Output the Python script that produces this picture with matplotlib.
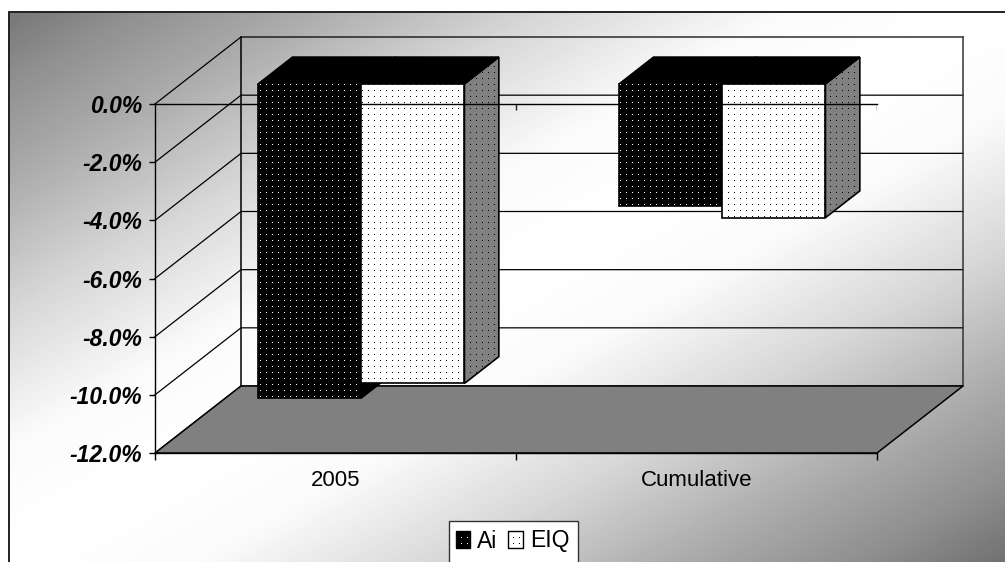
import numpy as np
import matplotlib
matplotlib.use('Agg')
import matplotlib.pyplot as plt
from matplotlib.patches import Patch, Polygon, Rectangle
from matplotlib.transforms import Affine2D, IdentityTransform

categories = ['2005', 'Cumulative']
ai = [-10.8, -4.2]
eiq = [-10.3, -4.6]
yticks = [0, -2, -4, -6, -8, -10, -12]
series_names = ['Ai', 'EIQ']

W, H = 1005, 562
plt.rcParams['font.family'] = ['Liberation Sans', 'DejaVu Sans']

fig = plt.figure(figsize=(W / 100, H / 100), dpi=100, facecolor='white')
# pixels measured from the top left corner of the picture
px = Affine2D().scale(1, -1).translate(0, H)

# background gradient
bg = fig.add_axes([0, 0, 1, 1], zorder=0)
bg.set_xlim(0, W)
bg.set_ylim(H, 0)
bg.axis('off')
xx, yy = np.meshgrid(np.arange(W), np.arange(H))
s = np.abs((xx / W + yy / H) / 2 - 0.5) * 2
shade = np.interp(s, [0, 0.2, 0.44, 0.66, 0.85, 1], [1, 0.98, 0.84, 0.68, 0.56, 0.44])
bg.imshow(shade, cmap='gray', vmin=0, vmax=1, extent=(0, W, H, 0), aspect='auto')
bg.add_patch(Rectangle((0, 0), W, 11, fc='white', ec='none'))
bg.add_patch(Rectangle((0, 0), 8, H, fc='white', ec='none'))
bg.plot([8.5, 8.5, W], [H, 11.5, 11.5], color='#222222', lw=1.4)

# front plane of the chart
ax = fig.add_axes([155 / W, 1 - 453 / H, (877 - 155) / W, (453 - 104) / H], zorder=1)
ax.patch.set_alpha(0)
ax.set_xlim(0, 2)
ax.set_ylim(-12, 0)

depth_x = 86 / 361
depth_y = 67 / (349 / 12)
bar_w = 1 / 3.5
d0, d1 = 0.3, 0.7


def proj(x, v, d):
    return x + d * depth_x, v + d * depth_y


# back wall and side wall lines
for v in yticks:
    ax.plot(*zip(proj(0, v, 0), proj(0, v, 1), proj(2, v, 1)), color='black', lw=0.9,
            clip_on=False, zorder=1, solid_joinstyle='miter')
ax.plot(*zip(proj(0, 0, 1), proj(0, -12, 1)), color='black', lw=1.1, clip_on=False, zorder=1)
ax.plot(*zip(proj(2, 0, 1), proj(2, -12, 1)), color='#333333', lw=1.1, clip_on=False, zorder=1)

# floor
floor = [proj(0, -12, 0), proj(0, -12, 1), proj(2, -12, 1), proj(2, -12, 0)]
ax.add_patch(Polygon(floor, closed=True, fc='#808080', ec='black', lw=1.1, clip_on=False, zorder=1.5))


def add_dots(gx, gy, color, z):
    pts = ax.scatter(gx, gy, s=0.52, marker='s', color=color, linewidths=0, transform=px,
                     zorder=z, clip_on=False)
    pts.set_snap(False)
    return pts


def dots(patch, color):
    gx, gy = np.meshgrid(np.arange(1, W, 6) + 0.5, np.arange(5, H, 6) + 0.5)
    pts = add_dots(gx.ravel(), gy.ravel(), color, patch.get_zorder() + 0.01)
    pts.set_clip_on(True)
    pts.set_clip_path(patch)


def bar(x, v, z, front_c, side_c, dot_c):
    x2 = x + bar_w
    side = [proj(x2, 0, d0), proj(x2, 0, d1), proj(x2, v, d1), proj(x2, v, d0)]
    top = [proj(x, 0, d0), proj(x, 0, d1), proj(x2, 0, d1), proj(x2, 0, d0)]
    front = [proj(x, 0, d0), proj(x2, 0, d0), proj(x2, v, d0), proj(x, v, d0)]
    p = Polygon(side, closed=True, fc=side_c, ec='black', lw=1.2, clip_on=False, zorder=z)
    ax.add_patch(p)
    if side_c != 'black':
        dots(p, 'black')
    ax.add_patch(Polygon(top, closed=True, fc='black', ec='black', lw=1.2, clip_on=False, zorder=z + 0.1))
    p = Polygon(front, closed=True, fc=front_c, ec='black', lw=1.2, clip_on=False, zorder=z + 0.2)
    ax.add_patch(p)
    dots(p, dot_c)


for i in range(len(categories)):
    left = i + 0.75 * bar_w
    bar(left, ai[i], 2, 'black', 'black', 'white')
    bar(left + bar_w, eiq[i], 2.5, 'white', '#808080', 'black')

# axes drawn over the bars
ax.spines['right'].set_visible(False)
for sp in ax.spines.values():
    sp.set_linewidth(1.0)
    sp.set_zorder(4)
ax.set_yticks(yticks)
ax.set_yticklabels(['%.1f%%' % v for v in yticks], fontsize=16.5, fontweight='bold', fontstyle='italic')
ax.tick_params(axis='y', length=4, width=1, pad=5)
ax.set_xticks(range(len(categories) + 1))
ax.set_xticklabels([])
ax.set_xticks(np.arange(len(categories)) + 0.5, categories, minor=True, fontsize=16)
ax.tick_params(axis='x', which='major', length=5, width=1)
ax.tick_params(axis='x', which='minor', length=0, pad=12.5)
ax.vlines(range(1, len(categories) + 1), -0.2, 0, color='#222222', lw=1, zorder=4)

# legend, its box runs off the bottom of the picture
ax.add_patch(Rectangle((448.5, 520.5), 129.5, 60, transform=px, fc='white', ec='#333333', lw=1,
                       clip_on=False, zorder=5))
handles = [Patch(fc='black', ec='black', label=series_names[0]),
           Patch(fc='white', ec='black', label=series_names[1])]
leg = ax.legend(handles=handles, loc='center left', bbox_to_anchor=(451, H - 541),
                bbox_transform=IdentityTransform(), ncol=2, frameon=False,
                fontsize=16.5, handlelength=0.65, handleheight=0.7, handletextpad=0.3,
                columnspacing=0.45, borderpad=0, borderaxespad=0.2)
leg.set_zorder(6)

fig.canvas.draw()
for patch, c in zip(leg.get_patches(), ['white', 'black']):
    box = patch.get_window_extent()
    mx, my = int((box.x0 + box.x1) / 2) + 0.5, int(H - (box.y0 + box.y1) / 2) + 0.5
    add_dots([mx - 3, mx + 3, mx - 3, mx + 3], [my - 3, my - 3, my + 3, my + 3], c, 7)

fig.savefig('out.png', dpi=100)
